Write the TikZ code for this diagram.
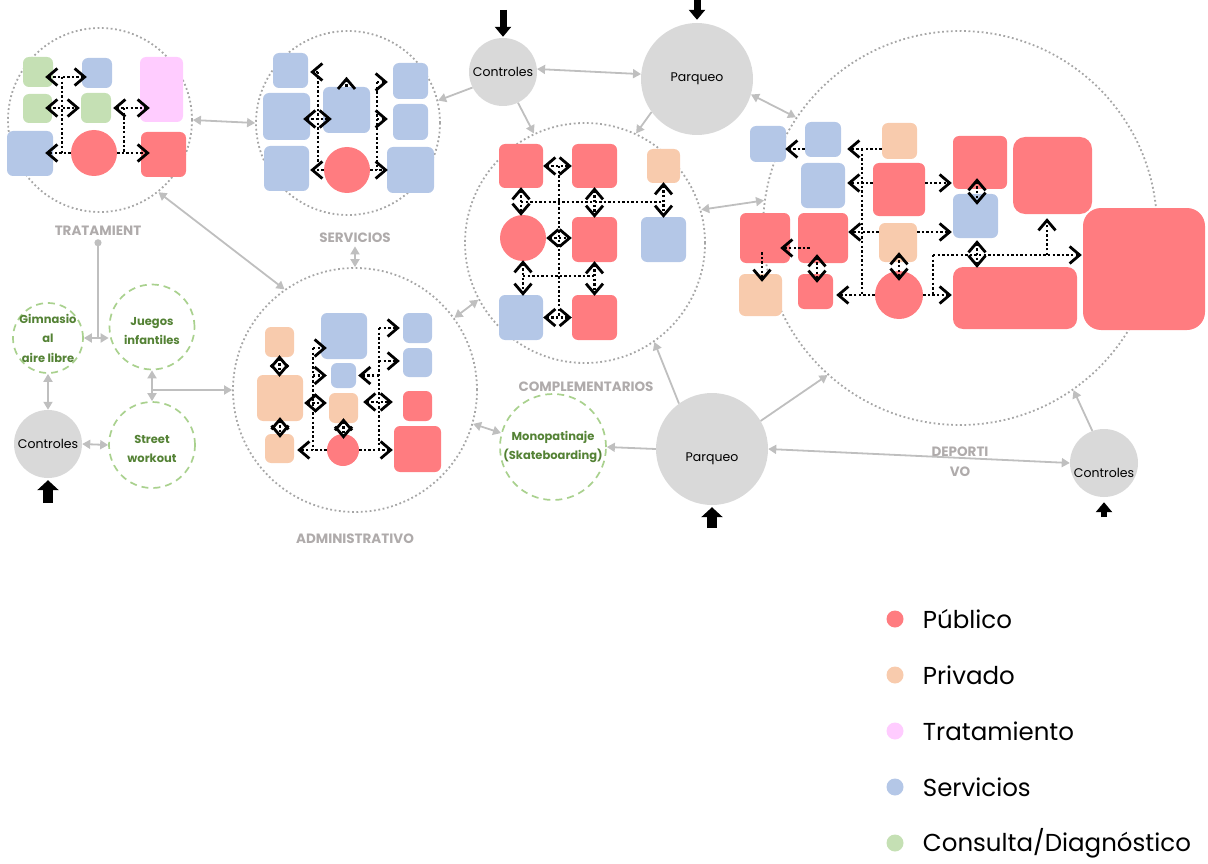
\documentclass[tikz,border=0pt]{standalone}
\usepackage{fontspec}
\setmainfont{Poppins}
\usetikzlibrary{arrows.meta,positioning}

\tikzset{barb/.tip={Straight Barb[length=10pt, width=17pt, line width=2.8pt]}}

\begin{document}
\begin{tikzpicture}[x=1pt, y=-1pt,
  zona/.style={rounded corners=6pt, inner sep=0pt},
  sz/.style 2 args={minimum width=#1, minimum height=#2},
  pub/.style={zona, fill=pubColor},
  priv/.style={zona, fill=privColor},
  trat/.style={zona, fill=tratColor},
  serv/.style={zona, fill=servColor},
  cons/.style={zona, fill=consColor},
  pubc/.style={circle, fill=pubColor, inner sep=0pt, minimum size=#1},
  area/.style={circle, draw=areaGray, line width=1.8pt, dash pattern=on 1.8pt off 2.6pt, minimum size=#1, inner sep=0pt},
  nodo/.style={circle, fill=nodeGray, minimum size=#1, inner sep=0pt, font=\fontsize{12.5}{14}\selectfont},
  libre/.style={circle, draw=libreGreen, line width=1.7pt, dash pattern=on 7pt off 5pt, minimum size=#1, inner sep=0pt},
  libretxt/.style={font=\bfseries\fontsize{11.5}{19.5}\selectfont, text=libreText, align=center},
  etiqueta/.style={font=\bfseries\fontsize{13.5}{20}\selectfont, text=labelGray, align=center},
  enlace/.style={draw=linkGray, line width=1.8pt, >={Triangle[width=9pt, length=8pt]}},
  flujo/.style={black, line width=2.4pt, dash pattern=on 2.4pt off 2.2pt},
  ida/.style={flujo, -barb, shorten >=#1}, ida/.default=0pt,
  doble/.style={flujo, barb-barb, shorten <=#1, shorten >=#1}, doble/.default=0pt,
  entrada/.style={line width=10pt, -{Triangle[width=21pt, length=10pt]}},
  entradaS/.style={line width=7pt, -{Triangle[width=16pt, length=10pt]}},
  punto/.style={circle, inner sep=0pt, minimum size=17pt},
  leyenda/.style={font=\fontsize{24.5}{28}\selectfont, inner sep=0pt}
]

% Colours of the zones
\definecolor{pubColor}{HTML}{FF7C80}
\definecolor{privColor}{HTML}{F8CBAD}
\definecolor{tratColor}{HTML}{FFCCFF}
\definecolor{servColor}{HTML}{B4C7E7}
\definecolor{consColor}{HTML}{C5E0B4}
\definecolor{nodeGray}{HTML}{D9D9D9}
\definecolor{linkGray}{HTML}{BFBFBF}
\definecolor{areaGray}{HTML}{A6A6A6}
\definecolor{labelGray}{HTML}{AFABAB}
\definecolor{libreGreen}{HTML}{A9D18E}
\definecolor{libreText}{HTML}{548235}

\useasboundingbox (0,0) rectangle (1208,864);

% --- SECTION 1: AREAS AND LABELS ---
    \node[area=184] (aT) at (100,120) {};
    \node[area=184] (aS) at (348,123) {};
    \node[area=240] (aC) at (585,243) {};
    \node[area=244] (aA) at (355,390) {};
    \node[area=394] (aD) at (960,228) {};

    \node[etiqueta] (lT) at (98,231) {TRATAMIENT};
    \node[etiqueta] (lS) at (355,238) {SERVICIOS};
    \node[etiqueta] (lC) at (586,387) {COMPLEMENTARIOS};
    \node[etiqueta] (lA) at (355,539) {ADMINISTRATIVO};
    \node[etiqueta] (lD) at (960,462) {DEPORTI\\VO};

% --- SECTION 2: ACCESS NODES AND OPEN AIR ---
    \node[nodo=68] (cT) at (503,72) {Controles};
    \node[nodo=112] (pT) at (697,79) {Parqueo};
    \node[nodo=68] (cL) at (48,444) {Controles};
    \node[nodo=112, label={[font=\fontsize{12.5}{14}\selectfont, yshift=-10pt]center:Parqueo}] (pB) at (712,449) {};
    \node[nodo=68, label={[font=\fontsize{12.5}{14}\selectfont, yshift=-10pt]center:Controles}] (cR) at (1104,463) {};

    \node[libre=70, label={[libretxt]center:Gimnasio\\al\\aire libre}] (gim) at (48,338) {};
    \node[libre=85, label={[libretxt, yshift=-4pt]center:Juegos\\infantiles}] (jue) at (152,327) {};
    \node[libre=86, label={[libretxt, yshift=-4pt]center:Street\\workout}] (str) at (152,445) {};
    \node[libre=106, label={[libretxt]center:Monopatinaje\\(Skateboarding)}] (mono) at (553,447) {};

% links between areas
    \draw[enlace,<->] (aT.east) -- (aS.west);
    \draw[enlace,<->] (aT.-51) -- (aA.125);
    \draw[enlace,<->] (lS.south) -- (aA.north);
    \draw[enlace,->] (cT.-153) -- (aS.14);
    \draw[enlace,<->] (cT.5) -- (pT.175);
    \draw[enlace,->] (cT.-64) -- (aC.115);
    \draw[enlace,->] (pT.-144) -- (aC.65);
    \draw[enlace,<->] (pT.-16) -- (aD.146);
    \draw[enlace,<->] (aC.16) -- (aD.172);
    \draw[enlace,<->] (aA.36) -- (aC.-152);
    \draw[enlace,<->] (aA.-16) -- (mono.165);
    \draw[enlace,->] (pB.west) -- (mono.east);
    \draw[enlace,->] (pB.126) -- (aC.-55);
    \draw[enlace,->] (pB.30) -- (aD.-132);
    \draw[enlace,<->] (pB.east) -- (cR.west);
    \draw[enlace,->] (cR.110) -- (aD.-55);
    \draw[enlace,{Circle[length=7pt]}-] (lT.south) -- (lT.south |- gim.east);
    \draw[enlace,<->] (gim.east) -- (gim.east -| jue.west);
    \draw[enlace,<->] (gim.south) -- (cL.north);
    \draw[enlace,<->] (cL.east) -- (str.west);
    \draw[enlace,<->] (jue.south) -- (str.north);
    \draw[enlace,->] (jue.south |- aA.west) -- (aA.west);

% entrances
    \draw[entradaS, shorten >=1pt] ([yshift=28pt]cT.north) -- (cT.north);
    \draw[entradaS, shorten >=3pt] ([yshift=23pt]pT.north) -- (pT.north);
    \draw[entrada, shorten >=2pt] ([yshift=-25pt]cL.south) -- (cL.south);
    \draw[entrada, shorten >=2pt] ([yshift=-23pt]pB.south) -- (pB.south);
    \draw[entradaS, line width=6pt, shorten >=5pt] ([yshift=-20pt]cR.south) -- (cR.south);

% --- SECTION 3: TRATAMIENT ---
    \node[cons, sz={30}{30}] (t1) at (38,72) {};
    \node[serv, sz={30}{30}] (t2) at (97,73) {};
    \node[trat, sz={43}{65}] (t3) at (161.5,89.5) {};
    \node[cons, sz={29}{29}] (t4) at (37.5,108.5) {};
    \node[cons, sz={30}{30}] (t5) at (96,108) {};
    \node[serv, sz={46}{45}] (t6) at (30,153.5) {};
    \node[pubc=46] (t7) at (94,153) {};
    \node[pub, sz={45}{45}] (t8) at (163.5,154.5) {};

    \coordinate (tj1) at (62,77);
    \coordinate (tj2) at (124,108);
    \draw[flujo] (tj1) -- (tj1 |- t7.west);
    \draw[flujo] (tj2) -- (tj2 |- t7.east);
    \draw[flujo, barb-barb, shorten <=-8pt, shorten >=-5pt] (t1.east |- tj1) -- (t2.west |- tj1);
    \draw[flujo, barb-barb, shorten <=-7pt, shorten >=1pt] (t4.east |- tj2) -- (t5.west |- tj2);
    \draw[flujo, barb-barb, shorten <=2pt, shorten >=-10pt] (t5.east |- tj2) -- (t3.west |- tj2);
    \draw[ida=-8pt] (t7.west) -- (t6.east |- t7.west);
    \draw[ida=-9pt] (t7.east) -- (t8.west |- t7.east);

% --- SECTION 4: SERVICIOS ---
    \node[serv, sz={35}{35}] (s1) at (290.5,70.5) {};
    \node[serv, sz={47}{47}] (s2) at (286.5,116.5) {};
    \node[serv, sz={45}{45}] (s3) at (286.5,168.5) {};
    \node[serv, sz={47}{46}] (s4) at (346.5,110) {};
    \node[pubc=46] (s5) at (347,170) {};
    \node[serv, sz={35}{36}] (s6) at (410.5,81) {};
    \node[serv, sz={35}{36}] (s7) at (410.5,122) {};
    \node[serv, sz={47}{46}] (s8) at (410.5,170) {};

    \coordinate (sj1) at (318,72);
    \coordinate (sj2) at (377,82);
    \draw[flujo] (sj1) -- (sj1 |- s5.west);
    \draw[flujo] (sj2) -- (sj2 |- s5.east);
    \draw[ida=2pt] (sj1) -- (s1.east |- sj1);
    \draw[flujo, barb-barb, shorten <=-7pt, shorten >=-9pt] (s2.east |- 0,119) -- (s4.west |- 0,119);
    \draw[ida=1pt] (s5.west) -- (s3.east |- s5.west);
    \draw[ida] (s4.north) -- ++(0,-10);
    \draw[ida=5pt] (sj2) -- (s6.west |- sj2);
    \draw[ida=5pt] (sj2 |- 0,119) -- (s7.west |- 0,119);
    \draw[ida=-1pt] (s5.east) -- (s8.west |- s5.east);

% --- SECTION 5: COMPLEMENTARIOS ---
    \node[pub, sz={44}{44}] (c1) at (521,166) {};
    \node[pub, sz={45}{44}] (c2) at (594.5,166) {};
    \node[priv, sz={33}{34}] (c3) at (663.5,166) {};
    \node[pubc=46] (c4) at (523,238) {};
    \node[pub, sz={45}{45}] (c5) at (594.5,239.5) {};
    \node[serv, sz={45}{45}] (c6) at (663.5,239.5) {};
    \node[serv, sz={44}{45}] (c7) at (521,317.5) {};
    \node[pub, sz={45}{45}] (c8) at (594.5,317.5) {};

    \draw[flujo] (c1.east -| 559,0) -- (c7.east -| 559,0);
    \draw[flujo] (c1.south |- 0,202) -- (c3.south |- 0,202);
    \draw[flujo] (c4.south |- 0,276) -- (c5.south |- 0,276);
    \draw[doble] (c1.east) -- (c2.west);
    \draw[doble=-1pt] (c1.south) -- (c1.south |- c4.north);
    \draw[doble=-1pt] (c2.south) -- (c5.north);
    \draw[doble=-1pt] (c3.south) -- (c6.north);
    \draw[doble] (c4.east) -- (c5.west |- c4.east);
    \draw[doble=-1pt] (c4.south) -- (c4.south |- c7.north);
    \draw[doble=-1pt] (c5.south) -- (c8.north);
    \draw[doble] (c7.east) -- (c8.west);

% --- SECTION 6: ADMINISTRATIVO ---
    \node[priv, sz={29}{30}] (a1) at (279.5,342) {};
    \node[priv, sz={46}{46}] (a2) at (280,398) {};
    \node[priv, sz={29}{29}] (a3) at (279.5,448.5) {};
    \node[serv, sz={46}{46}] (a4) at (344,336) {};
    \node[serv, sz={25}{25}] (a5) at (343.5,375.5) {};
    \node[priv, sz={29}{30}] (a6) at (343.5,408) {};
    \node[pubc=32] (a7) at (343,450) {};
    \node[serv, sz={29}{30}] (a8) at (417.5,328) {};
    \node[serv, sz={29}{29}] (a9) at (417.5,362.5) {};
    \node[pub, sz={29}{30}] (a10) at (417.5,406) {};
    \node[pub, sz={47}{46}] (a11) at (417.5,449) {};

    \coordinate (aj1) at (313,348);
    \coordinate (aj2) at (379,328);
    \draw[flujo] (aj1) -- (aj1 |- a7.west);
    \draw[flujo] (aj2) -- (aj2 |- a7.east);
    \draw[ida=-6pt] (aj1) -- (a4.west |- aj1);
    \draw[ida=4pt] (aj1 |- a5.west) -- (a5.west);
    \draw[flujo, barb-barb, shorten <=1pt, shorten >=2pt] (a2.east |- 0,403) -- (a6.west |- 0,403);
    \draw[ida=3pt] (a7.west) -- (a3.east |- a7.west);
    \draw[doble=-2pt] (a1.south) -- (a1.south |- a2.north);
    \draw[doble=-4pt] (a2.south) -- (a2.south |- a3.north);
    \draw[doble=-5pt] (a6.south) -- (a6.south |- a7.north);
    \draw[ida=3pt] (aj2) -- (a8.west |- aj2);
    \draw[ida=3pt] (aj2 |- 0,361) -- (a9.west |- 0,361);
    \draw[ida=2pt] (aj2 |- a5.east) -- (a5.east);
    \draw[flujo, barb-barb, shorten <=5pt, shorten >=10pt] (a6.east |- 0,402) -- (a10.west |- 0,402);
    \draw[ida=1pt] (a7.east) -- (a11.west |- a7.east);

% --- SECTION 7: DEPORTIVO ---
    \node[serv, sz={36}{36}] (d1) at (768,144) {};
    \node[serv, sz={36}{35}] (d2) at (823,139.5) {};
    \node[priv, sz={35}{36}] (d3) at (899.5,141) {};
    \node[serv, sz={44}{45}] (d4) at (823,185.5) {};
    \node[pub, sz={52}{53}] (d5) at (899,189.5) {};
    \node[pub, sz={54}{53}] (d6) at (980,162.5) {};
    \node[pub, sz={79}{77}, rounded corners=12pt] (d7) at (1052.5,175.5) {};
    \node[serv, sz={45}{44}] (d8) at (975.5,216) {};
    \node[pub, sz={50}{50}] (d9) at (765,238) {};
    \node[pub, sz={50}{50}] (d10) at (823,238) {};
    \node[priv, sz={38}{39}] (d11) at (898,242.5) {};
    \node[priv, sz={43}{42}] (d12) at (760.5,295) {};
    \node[pub, sz={35}{35}] (d13) at (815.5,291.5) {};
    \node[pubc=48] (d14) at (899,295) {};
    \node[pub, sz={124}{62}, rounded corners=10pt] (d15) at (1015,298) {};
    \node[pub, sz={122}{122}, rounded corners=18pt] (d16) at (1144,269) {};

    \coordinate (dj1) at (862,149);
    \coordinate (dj2) at (933,255);
    \draw[flujo] (dj1) -- (dj1 |- d14.west);
    \draw[flujo] (dj2) -- (dj2 |- d14.east);
    \draw[ida=6pt] (d3.west |- dj1) -- (d2.east |- dj1);
    \draw[ida=-1pt] (d2.west |- dj1) -- (d1.east |- dj1);
    \draw[ida=2pt] (d5.west |- 0,183) -- (d4.east |- 0,183);
    \draw[ida=1pt] (d5.east |- 0,183) -- (d6.west |- 0,183);
    \draw[ida] (d11.west |- 0,232) -- (d10.east |- 0,232);
    \draw[ida=1pt] (d11.east |- 0,232) -- (d8.west |- 0,232);
    \draw[ida=-10pt, shorten <=-12pt] (d10.west |- 0,248) -- (d9.east |- 0,248);
    \draw[ida=-8pt, shorten <=-11pt] (d9.south -| 762,0) -- (d12.north -| 762,0);
    \draw[doble=-9pt] (d10.south -| 817,0) -- (d13.north -| 817,0);
    \draw[ida=3pt] (d14.west) -- (d13.east |- d14.west);
    \draw[doble=-10pt] (d11.south -| d14.north) -- (d14.north);
    \draw[ida=1pt] (d14.east) -- (d15.west |- d14.east);
    \draw[ida=1pt] (dj2) -- (d16.west |- dj2);
    \draw[ida=4pt] (dj2 -| 1047,0) -- (d7.south -| 1047,0);
    \draw[doble=-11pt] (d6.south -| 977,0) -- (d8.north -| 977,0);
    \draw[flujo, barb-barb, shorten <=2pt, shorten >=-1pt] (d8.south -| 977,0) -- (d15.north -| 977,0);

% --- SECTION 8: LEGEND ---
    \foreach \c/\t [count=\i] in {pubColor/Público, privColor/Privado, tratColor/Tratamiento, servColor/Servicios, consColor/{Consulta/Diagnóstico}} {
    \node[punto, fill=\c] (k\i) at (895,563+56*\i) {};
    \node[leyenda, right=19pt of k\i] (ley\i) {\t};
    }

\end{tikzpicture}
\end{document}
